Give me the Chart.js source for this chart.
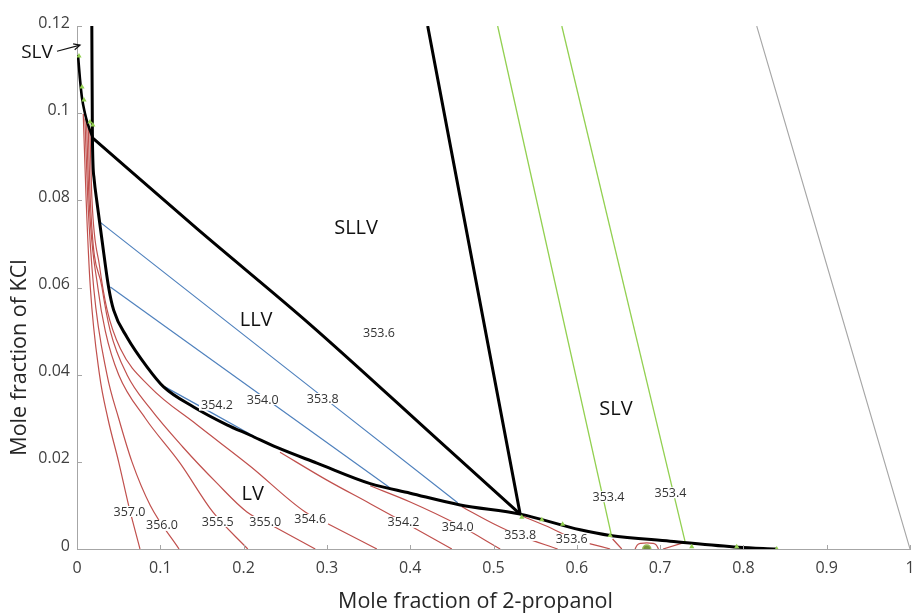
<!DOCTYPE html>
<html><head><meta charset="utf-8">
<script src="https://cdn.jsdelivr.net/npm/chart.js@4.4.0/dist/chart.umd.min.js"></script>
<style>html,body{margin:0;padding:0;background:#fff;}</style>
</head><body>
<canvas id="c" width="917" height="613"></canvas>
<script>
// ---------- tick values ----------
const xTickValues = [0,0.1,0.2,0.3,0.4,0.5,0.6,0.7,0.8,0.9,1];
const yTickValues = [0,0.02,0.04,0.06,0.08,0.1,0.12];

// ---------- phase boundaries (black) ----------
const slvCurve = [[0.0012,0.1133],[0.0035,0.108],[0.006,0.1035],[0.0095,0.1],[0.013,0.0975],[0.019,0.0943]];
const lvBoundary = [[0.0178,0.12],[0.0185,0.0943],[0.0205,0.085],[0.024,0.0795],[0.030,0.0709],[0.038,0.060],[0.044,0.0548],[0.060,0.0486],[0.084,0.0418],[0.104,0.0372],[0.140,0.0326],[0.180,0.0285],[0.208,0.0261],[0.240,0.0233],[0.288,0.0197],[0.352,0.0150],[0.40,0.0128],[0.46,0.0101],[0.532,0.008],[0.604,0.0044],[0.64,0.0031],[0.712,0.0018],[0.794,0.0004],[0.839,0]];
const llvTop = [[0.019,0.0943],[0.144,0.0735],[0.28,0.0515],[0.433,0.0251],[0.532,0.008]];
const sllvRight = [[0.421,0.12],[0.532,0.008]];

// ---------- SLV isotherms ----------
const slv3534a = [[0.505,0.12],[0.642,0.0028]];
const slv3534b = [[0.582,0.12],[0.730,0.0017]];
const slvEdge = [[0.816,0.12],[1.0,0]];

// ---------- LLV tie lines (blue) ----------
const llv3538 = [[0.0276,0.075],[0.457,0.0106]];
const llv3540 = [[0.040,0.0601],[0.376,0.014]];
const llv3542 = [[0.1056,0.0372],[0.215,0.0256]];

// ---------- LV isotherms (red) ----------
const lv3570 = [[0.0075,0.0998],[0.011,0.08],[0.016,0.06],[0.027,0.04],[0.037,0.03],[0.050,0.02],[0.062,0.01],[0.0756,0]];
const lv3560 = [[0.0095,0.0988],[0.013,0.08],[0.020,0.06],[0.036,0.04],[0.050,0.03],[0.066,0.02],[0.088,0.01],[0.1225,0]];
const lv3555 = [[0.0115,0.0978],[0.0145,0.08],[0.025,0.06],[0.034,0.05],[0.050,0.04],[0.082,0.03],[0.1237,0.0197],[0.163,0.0085],[0.205,0]];
const lv3550 = [[0.0135,0.0968],[0.016,0.08],[0.030,0.06],[0.040,0.05],[0.060,0.04],[0.0876,0.0323],[0.127,0.0234],[0.168,0.0151],[0.204,0.0085],[0.238,0.005],[0.286,0]];
const lv3546 = [[0.0155,0.0958],[0.018,0.08],[0.027,0.065],[0.036,0.055],[0.052,0.046],[0.0876,0.0372],[0.144,0.0285],[0.208,0.019],[0.274,0.0085],[0.304,0.0055],[0.36,0]];
const lv3542 = [[0.2437,0.0222],[0.30,0.0158],[0.352,0.0104],[0.392,0.0062],[0.45,0]];
const lv3540 = [[0.352,0.0145],[0.40,0.0108],[0.457,0.0056],[0.508,0]];
const lv3538 = [[0.462,0.0097],[0.50,0.0058],[0.532,0.003],[0.577,0]];
const lv3536 = [[0.535,0.0075],[0.57,0.0047],[0.594,0.0025],[0.640,0]];
const lvTail1 = [[0.643,0.0023],[0.654,0]];
const lvLoop = [[0.670,0],[0.6725,0.0009],[0.677,0.0013],[0.684,0.0014],[0.691,0.0013],[0.6955,0.0009],[0.698,0]];
const lvTail2 = [[0.7035,0],[0.7275,0.0014]];

// ---------- markers ----------
const slvPoints = [[0.0024,0.1131],[0.006,0.106],[0.0084,0.103],[0.0156,0.098],[0.019,0.0973],[0.534,0.0073],[0.558,0.0067],[0.583,0.0057],[0.64,0.0031],[0.738,0.0005],[0.792,0.0005],[0.840,0]];
const azeoPoint = [[0.684,0]];

// ---------- text ----------
const tempLabels = ['353.6','354.2','354.0','353.8','353.4','353.4','357.0','356.0','355.5','355.0','354.6','354.2','354.0','353.8','353.6'];
const tempLabelX = [0.3625,0.168,0.223,0.295,0.638,0.7125,0.063,0.102,0.169,0.226,0.280,0.392,0.457,0.532,0.594];
const tempLabelY = [0.0495,0.0329,0.0342,0.0344,0.0119,0.0128,0.0085,0.0053,0.0062,0.0062,0.0067,0.006,0.005,0.003,0.0021];
const regionLabels = ['SLLV','LLV','LV','SLV'];
const regionX = [0.335,0.215,0.211,0.647];
const regionY = [0.0736,0.0525,0.0126,0.0321];
const slvNote = {text:'SLV', x:-0.048, y:0.1138, tailX:-0.024, tailY:0.1142, tipX:0.0036, tipY:0.1156};
const xTitle = 'Mole fraction of 2-propanol';
const yTitle = 'Mole fraction of KCl';

const toXY = a => a.map(p => ({x:p[0], y:p[1]}));
const RED='#C0504D', BLUE='#4F81BD', GREEN='#92D050', BLACK='#000000', GRAY='#A6A6A6', AXIS='#A6A6A6';
function line(data, color, width){
  return {data:toXY(data), showLine:true, borderColor:color, borderWidth:width, pointRadius:0, pointHoverRadius:0, fill:false, cubicInterpolationMode:'monotone'};
}

const datasets = [
  {data:toXY(azeoPoint), showLine:false, pointStyle:'circle', pointRadius:4, backgroundColor:'#77933C', borderColor:'#9BBB59', borderWidth:1.5},
  {data:toXY(slvPoints), showLine:false, pointStyle:'triangle', pointRadius:3, backgroundColor:GREEN, borderColor:GREEN, borderWidth:0},
  line(slvCurve, BLACK, 2.6), line(lvBoundary, BLACK, 3), line(llvTop, BLACK, 3), line(sllvRight, BLACK, 3),
  line(slv3534a, GREEN, 1.3), line(slv3534b, GREEN, 1.3), line(slvEdge, GRAY, 1.1),
  line(llv3538, BLUE, 1.2), line(llv3540, BLUE, 1.2), line(llv3542, BLUE, 1.2),
  line(lv3570, RED, 1.2), line(lv3560, RED, 1.2), line(lv3555, RED, 1.2), line(lv3550, RED, 1.2), line(lv3546, RED, 1.2),
  line(lv3542, RED, 1.2), line(lv3540, RED, 1.2), line(lv3538, RED, 1.2), line(lv3536, RED, 1.2),
  line(lvTail1, RED, 1.2), line(lvLoop, RED, 1.2), line(lvTail2, RED, 1.2)
];

const FONT = '"Open Sans", "Noto Sans", sans-serif';

const annot = {
  id:'annot',
  afterDatasetsDraw(chart){
    const {ctx, chartArea:a, scales:{x, y}} = chart;
    ctx.save();
    // inner tick marks
    ctx.strokeStyle = AXIS; ctx.lineWidth = 1;
    xTickValues.forEach(v => { const px = Math.round(x.getPixelForValue(v)) + 0.5; ctx.beginPath(); ctx.moveTo(px, a.bottom); ctx.lineTo(px, a.bottom - 4); ctx.stroke(); });
    yTickValues.forEach(v => { const py = Math.round(y.getPixelForValue(v)) + 0.5; ctx.beginPath(); ctx.moveTo(a.left, py); ctx.lineTo(a.left + 5, py); ctx.stroke(); });
    // temperature labels with white background
    ctx.font = '12.5px ' + FONT; ctx.textAlign = 'center'; ctx.textBaseline = 'middle';
    tempLabels.forEach((t, i) => {
      const px = x.getPixelForValue(tempLabelX[i]), py = y.getPixelForValue(tempLabelY[i]);
      const w = ctx.measureText(t).width;
      ctx.fillStyle = '#ffffff'; ctx.fillRect(px - w/2 - 2, py - 6, w + 4, 11);
      ctx.fillStyle = '#333333'; ctx.fillText(t, px, py);
    });
    // region labels
    ctx.font = '20px ' + FONT; ctx.fillStyle = '#111111';
    regionLabels.forEach((t, i) => ctx.fillText(t, x.getPixelForValue(regionX[i]), y.getPixelForValue(regionY[i])));
    // SLV note with arrow
    ctx.font = '19px ' + FONT;
    ctx.fillText(slvNote.text, x.getPixelForValue(slvNote.x), y.getPixelForValue(slvNote.y));
    const tx = x.getPixelForValue(slvNote.tailX), ty = y.getPixelForValue(slvNote.tailY);
    const hx = x.getPixelForValue(slvNote.tipX), hy = y.getPixelForValue(slvNote.tipY);
    ctx.strokeStyle = '#111111'; ctx.lineWidth = 1.2;
    ctx.beginPath(); ctx.moveTo(tx, ty); ctx.lineTo(hx, hy); ctx.stroke();
    const ang = Math.atan2(hy - ty, hx - tx);
    ctx.beginPath();
    ctx.moveTo(hx - 7*Math.cos(ang - 0.45), hy - 7*Math.sin(ang - 0.45));
    ctx.lineTo(hx, hy);
    ctx.lineTo(hx - 7*Math.cos(ang + 0.45), hy - 7*Math.sin(ang + 0.45));
    ctx.stroke();
    // axis titles
    ctx.font = '21.5px ' + FONT; ctx.fillStyle = '#262626';
    ctx.fillText(xTitle, (a.left + a.right)/2 - 18, chart.height - 11);
    ctx.translate(20, (a.top + a.bottom)/2 + 70);
    ctx.rotate(-Math.PI/2);
    ctx.fillText(yTitle, 0, 0);
    ctx.restore();
  }
};

new Chart(document.getElementById('c'), {
  type:'scatter',
  data:{datasets},
  plugins:[annot],
  options:{
    responsive:false, animation:false, devicePixelRatio:1,
    layout:{padding:{left:0, right:7, top:26, bottom:0}},
    plugins:{legend:{display:false}, tooltip:{enabled:false}},
    scales:{
      x:{
        type:'linear', min:0, max:1,
        afterBuildTicks: s => { s.ticks = xTickValues.map(v => ({value:v})); },
        afterFit: s => { s.height = 64; s.paddingRight = 0; s.paddingLeft = 0; },
        grid:{display:false, drawTicks:false},
        border:{display:true, color:AXIS, width:1},
        ticks:{padding:10, color:'#404040', font:{family:FONT, size:16}, callback:v => String(v), maxRotation:0, autoSkip:false},
        title:{display:false}
      },
      y:{
        type:'linear', min:0, max:0.12,
        afterBuildTicks: s => { s.ticks = yTickValues.map(v => ({value:v})); },
        afterFit: s => { s.width = 77; s.paddingTop = 0; s.paddingBottom = 0; },
        grid:{display:false, drawTicks:false},
        border:{display:true, color:AXIS, width:1},
        ticks:{padding:7, labelOffset:-3, color:'#404040', font:{family:FONT, size:16}, callback:v => String(v), autoSkip:false},
        title:{display:false}
      }
    }
  }
});
</script>
</body></html>
